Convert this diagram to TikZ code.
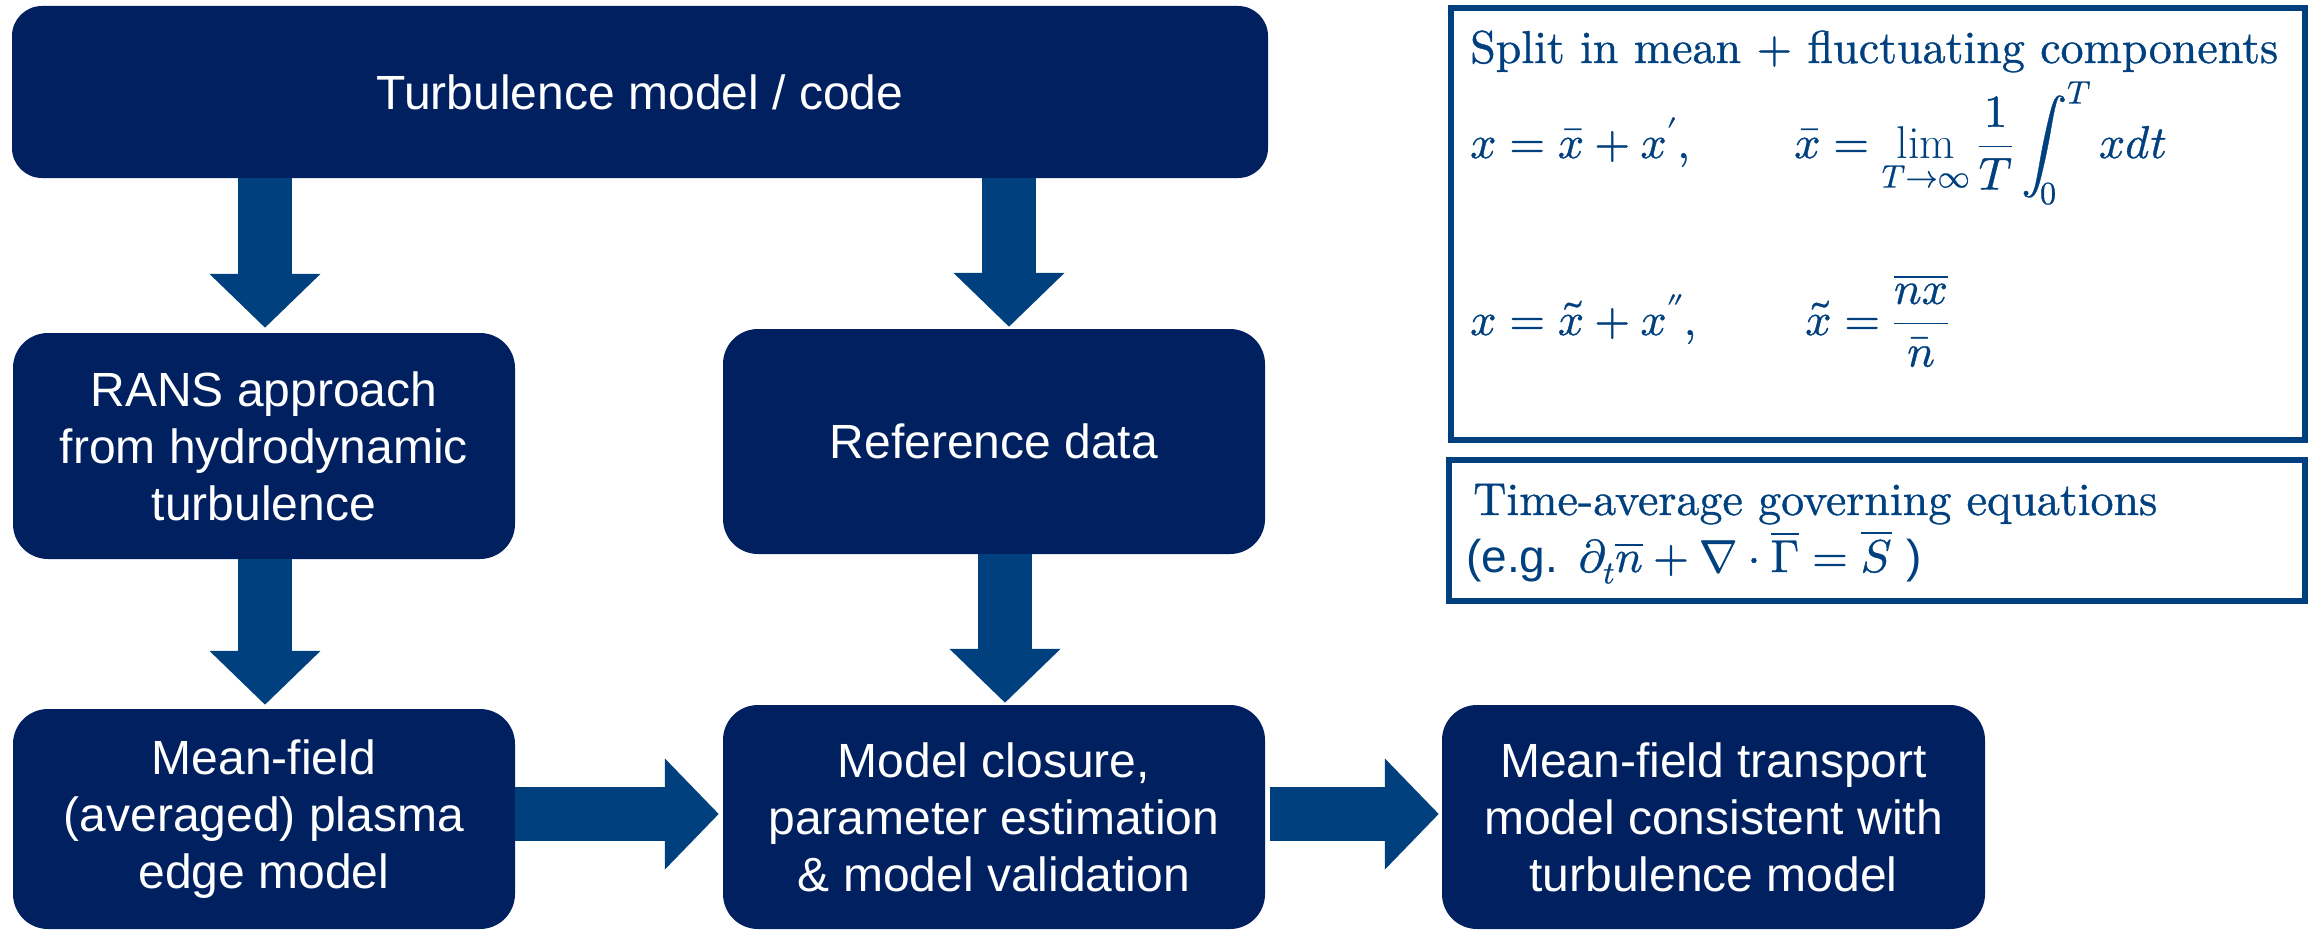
\documentclass[tikz,border=0pt]{standalone}
\usepackage{fontspec}
\usepackage{unicode-math}
\setmathfont{latinmodern-math.otf}[FakeBold=0.8]
\newfontfamily\arial{Liberation Sans}
\newfontfamily\serifb{lmroman10-regular.otf}[FakeBold=0.8]
\usetikzlibrary{arrows.meta,calc}
\definecolor{boxfill}{RGB}{0,32,96}
\definecolor{arrowblue}{RGB}{0,64,126}
\tikzset{
  blk/.style={draw=none, fill=boxfill, rounded corners=35pt, text=white,
    font=\arial\fontsize{48}{57}\selectfont, align=center, inner sep=0pt},
  bigarrow/.style={draw=arrowblue, line width=54pt,
    -{Triangle[width=108pt,length=54pt]}},
  fbox/.style={draw=arrowblue, line width=6pt, inner sep=0pt},
  ftext/.style={text=arrowblue, font=\serifb\fontsize{46}{55}\selectfont,
    anchor=base west, inner sep=0pt}
}
\begin{document}
\begin{tikzpicture}[x=1pt,y=-1pt]
\useasboundingbox (0,0) rectangle (2308,931);
% boxes
\node[blk, minimum width=1256pt, minimum height=172pt, rounded corners=30pt] (top) at (640,92) {Turbulence model / code};
\node[blk, minimum width=502pt, minimum height=226pt] (rans) at (264,446) {RANS approach\\from hydrodynamic\\turbulence};
\node[blk, minimum width=542pt, minimum height=225pt] (ref) at (994,441.5) {Reference data};
\node[blk, minimum width=502pt, minimum height=220pt] (mf) at (264,819) {Mean-field\\(averaged) plasma\\edge model};
\node[blk, minimum width=542pt, minimum height=224pt] (mc) at (994,817) {Model closure,\\parameter estimation\\\& model validation};
\node[blk, minimum width=543pt, minimum height=224pt] (mt) at (1713.5,817) {Mean-field transport\\model consistent with\\turbulence model};
% arrow guide coordinates
\coordinate (xa) at (265,0);
\coordinate (xb) at (1009,0);
\coordinate (xc) at (1005,0);
\coordinate (yh) at (0,814);
% arrows
\draw[bigarrow, shorten >=5pt] (top.south -| xa) -- (rans.north -| xa);
\draw[bigarrow, shorten >=2pt] (top.south -| xb) -- (ref.north -| xb);
\draw[bigarrow, shorten >=4pt] (rans.south -| xa) -- (mf.north -| xa);
\draw[bigarrow, shorten >=2pt] (ref.south -| xc) -- (mc.north -| xc);
\draw[bigarrow, shorten >=4pt] (mf.east |- yh) -- (mc.west |- yh);
\draw[bigarrow, shorten <=5pt, shorten >=3pt] (mc.east |- yh) -- (mt.west |- yh);
% formula boxes
\node[fbox, minimum width=854pt, minimum height=432pt] (split) at (1878,223.75) {};
\node[fbox, minimum width=856pt, minimum height=141pt] (avg) at (1877,530.75) {};
\node[ftext] (s1) at (1470,63) {Split in mean + fluctuating components};
\node[ftext] (e1a) at (1470,158) {$x=\bar{x}+x',$};
\node[ftext] (e1b) at (1794,158) {$\displaystyle \bar{x}=\lim_{T\to\infty}\frac{1}{T}\int_0^T xdt$};
\node[ftext] (e2a) at (1470,335) {$x=\tilde{x}+x'',$};
\node[ftext] (e2b) at (1805,335) {$\displaystyle \tilde{x}=\frac{\overline{nx}}{\bar{n}}$};
\node[ftext] (t1) at (1473,515) {Time-average governing equations};
\node[ftext] (t2) at (1466,572) {{\arial(e.g.} $\partial_t\overline{n}+\nabla\cdot\overline{\Gamma}=\overline{S}$ {\arial)}};
\end{tikzpicture}
\end{document}
